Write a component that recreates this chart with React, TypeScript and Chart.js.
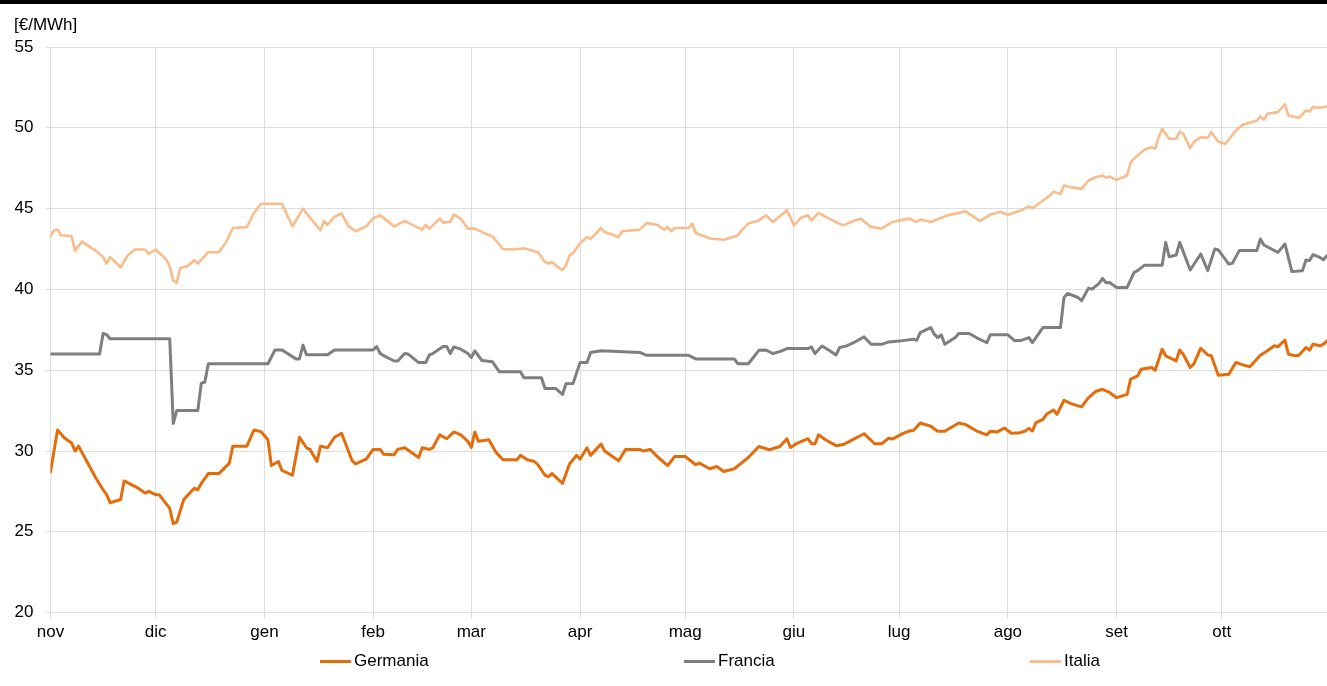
import React, { useEffect, useRef } from "react";
import { Chart, registerables } from "chart.js";

Chart.register(...registerables);

const Y_UNIT = "[€/MWh]";
const MONTH_LABELS = ["nov", "dic", "gen", "feb", "mar", "apr", "mag", "giu", "lug", "ago", "set", "ott"];
const MONTH_START_DAYS = [0, 30, 61, 92, 120, 151, 181, 212, 242, 273, 304, 334];
const LAST_DAY = 364;
const Y_MIN = 20;
const Y_MAX = 55;
const Y_STEP = 5;

const SERIES_NAMES = ["Germania", "Francia", "Italia"];
const SERIES_COLORS = ["#E46C0A", "#7F7F7F", "#F9BC8C"];

// [day index from 1 Nov, €/MWh]
const GERMANIA: [number, number][] = [
  [0, 28.7], [2, 31.3], [4, 30.8], [6, 30.5], [7, 30.0], [8, 30.3], [10, 29.5], [13, 28.3],
  [15, 27.6], [16, 27.3], [17, 26.8], [20, 27.0], [21, 28.15], [25, 27.7], [27, 27.4], [28, 27.5],
  [30, 27.3], [31, 27.3], [34, 26.45], [35, 25.5], [36, 25.6], [38, 27.0], [41, 27.7], [42, 27.6],
  [43, 28.0], [45, 28.6], [48, 28.6], [51, 29.25], [52, 30.3], [56, 30.3], [58, 31.3], [60, 31.2],
  [62, 30.7], [63, 29.1], [65, 29.35], [66, 28.8], [69, 28.5], [71, 30.85], [73, 30.2], [74, 30.1],
  [76, 29.35], [77, 30.3], [79, 30.2], [81, 30.85], [83, 31.1], [86, 29.4], [87, 29.2], [90, 29.5],
  [92, 30.1], [94, 30.1], [95, 29.8], [98, 29.77], [99, 30.1], [101, 30.2], [105, 29.6], [106, 30.2],
  [108, 30.1], [109, 30.2], [111, 31.0], [113, 30.76], [115, 31.18], [117, 31.0], [119, 30.6],
  [120, 30.22], [121, 31.18], [122, 30.6], [125, 30.7], [127, 29.93], [129, 29.46], [133, 29.46],
  [134, 29.73], [136, 29.46], [138, 29.35], [139, 29.15], [141, 28.5], [142, 28.42], [143, 28.6],
  [146, 28.0], [148, 29.2], [150, 29.73], [151, 29.5], [153, 30.2], [154, 29.73], [157, 30.43],
  [158, 30.0], [162, 29.4], [164, 30.1], [168, 30.1], [169, 30.0], [171, 30.1], [173, 29.66],
  [176, 29.1], [178, 29.66], [181, 29.66], [184, 29.15], [185, 29.25], [188, 28.9], [190, 29.04],
  [192, 28.73], [195, 28.9], [197, 29.25], [199, 29.6], [202, 30.28], [205, 30.08], [208, 30.28],
  [210, 30.76], [211, 30.22], [213, 30.49], [216, 30.76], [217, 30.45], [218, 30.45], [219, 31.0],
  [221, 30.7], [224, 30.33], [226, 30.4], [227, 30.5], [232, 31.07], [235, 30.45], [237, 30.45],
  [239, 30.8], [240, 30.74], [243, 31.07], [245, 31.25], [246, 31.25], [248, 31.73], [251, 31.53],
  [253, 31.22], [255, 31.22], [259, 31.73], [261, 31.63], [264, 31.25], [267, 31.0], [268, 31.22],
  [270, 31.18], [272, 31.42], [274, 31.1], [276, 31.11], [278, 31.24], [279, 31.4], [280, 31.24],
  [281, 31.76], [283, 31.96], [284, 32.27], [286, 32.54], [287, 32.27], [289, 33.14], [291, 32.93],
  [294, 32.73], [296, 33.3], [298, 33.68], [300, 33.82], [302, 33.62], [304, 33.3], [307, 33.5],
  [308, 34.44], [310, 34.65], [311, 35.06], [314, 35.17], [315, 35.0], [317, 36.3], [318, 35.89],
  [321, 35.58], [322, 36.24], [323, 35.99], [325, 35.17], [326, 35.37], [328, 36.36], [330, 35.95],
  [331, 35.89], [333, 34.69], [336, 34.75], [338, 35.48], [340, 35.33], [342, 35.21], [345, 35.93],
  [347, 36.2], [349, 36.51], [350, 36.45], [352, 36.86], [353, 35.99], [355, 35.89], [356, 35.93],
  [358, 36.4], [359, 36.24], [360, 36.61], [362, 36.51], [363, 36.61], [364, 36.82],
];

const FRANCIA: [number, number][] = [
  [0, 36.0], [14, 36.0], [15, 37.27], [16, 37.2], [17, 36.95], [34, 36.95], [35, 31.7], [36, 32.5],
  [42, 32.5], [43, 34.2], [44, 34.25], [45, 35.4], [62, 35.4], [64, 36.25], [66, 36.25], [70, 35.7],
  [71, 35.7], [72, 36.55], [73, 35.95], [79, 35.95], [81, 36.25], [92, 36.25], [93, 36.46],
  [94, 36.05], [95, 35.9], [98, 35.57], [99, 35.57], [101, 36.03], [102, 36.0], [105, 35.47],
  [107, 35.47], [108, 35.94], [109, 36.03], [112, 36.46], [113, 36.46], [114, 36.03], [115, 36.44],
  [117, 36.3], [119, 36.03], [120, 35.78], [121, 36.2], [123, 35.6], [126, 35.53], [128, 34.9],
  [134, 34.9], [135, 34.53], [140, 34.53], [141, 33.87], [144, 33.87], [146, 33.5], [147, 34.16],
  [149, 34.18], [151, 35.47], [153, 35.47], [154, 36.1], [157, 36.2], [168, 36.1], [170, 35.92],
  [182, 35.92], [184, 35.7], [195, 35.7], [196, 35.4], [199, 35.4], [202, 36.23], [204, 36.25],
  [206, 36.03], [208, 36.15], [210, 36.34], [216, 36.34], [217, 36.44], [218, 36.03], [220, 36.5],
  [222, 36.23], [224, 35.94], [225, 36.4], [227, 36.5], [229, 36.7], [232, 37.06], [234, 36.6],
  [237, 36.6], [239, 36.75], [242, 36.8], [246, 36.92], [247, 36.85], [248, 37.33], [251, 37.64],
  [252, 37.23], [253, 37.02], [254, 37.19], [255, 36.6], [258, 37.02], [259, 37.27], [262, 37.27],
  [264, 37.02], [267, 36.7], [268, 37.19], [273, 37.19], [275, 36.82], [277, 36.86], [279, 37.02],
  [280, 36.71], [282, 37.33], [283, 37.64], [288, 37.64], [289, 39.5], [290, 39.75], [293, 39.5],
  [294, 39.3], [296, 40.08], [297, 40.02], [299, 40.37], [300, 40.68], [301, 40.41], [302, 40.43],
  [304, 40.12], [307, 40.12], [309, 41.05], [310, 41.16], [312, 41.5], [317, 41.5], [318, 42.91],
  [319, 42.02], [321, 42.13], [322, 42.91], [325, 41.2], [328, 42.19], [330, 41.16], [332, 42.5],
  [333, 42.44], [336, 41.57], [337, 41.61], [339, 42.4], [344, 42.4], [345, 43.12], [346, 42.75],
  [350, 42.29], [352, 42.81], [354, 41.1], [357, 41.16], [358, 41.82], [359, 41.78], [360, 42.15],
  [362, 41.98], [363, 41.84], [364, 42.09],
];

const ITALIA: [number, number][] = [
  [0, 43.28], [1, 43.65], [2, 43.7], [3, 43.35], [6, 43.3], [7, 42.4], [9, 42.97], [13, 42.37],
  [15, 42.0], [16, 41.6], [17, 42.0], [20, 41.37], [22, 42.1], [24, 42.47], [27, 42.47], [28, 42.2],
  [30, 42.47], [33, 41.85], [34, 41.43], [35, 40.54], [36, 40.4], [37, 41.33], [39, 41.43],
  [41, 41.8], [42, 41.6], [45, 42.3], [48, 42.3], [50, 42.9], [52, 43.8], [56, 43.86], [58, 44.73],
  [60, 45.3], [66, 45.3], [69, 43.9], [72, 45.0], [73, 44.7], [77, 43.65], [78, 44.23], [79, 44.0],
  [81, 44.5], [83, 44.7], [85, 43.9], [87, 43.6], [90, 43.9], [92, 44.4], [94, 44.58], [98, 43.9],
  [101, 44.23], [106, 43.7], [107, 44.0], [108, 43.76], [111, 44.38], [112, 44.13], [114, 44.17],
  [115, 44.63], [117, 44.38], [119, 43.76], [121, 43.76], [124, 43.45], [126, 43.28], [129, 42.5],
  [132, 42.47], [135, 42.55], [139, 42.3], [141, 41.7], [142, 41.6], [143, 41.7], [145, 41.33],
  [146, 41.2], [147, 41.48], [148, 42.1], [149, 42.24], [151, 42.86], [153, 43.24], [154, 43.13],
  [157, 43.8], [158, 43.55], [162, 43.24], [163, 43.6], [168, 43.7], [170, 44.1], [173, 44.0],
  [175, 43.7], [176, 43.86], [177, 43.6], [178, 43.8], [182, 43.8], [183, 44.07], [184, 43.49],
  [188, 43.15], [192, 43.07], [196, 43.34], [197, 43.65], [199, 44.07], [202, 44.27], [204, 44.59],
  [206, 44.17], [210, 44.9], [212, 43.96], [214, 44.44], [216, 44.59], [217, 44.27], [219, 44.73],
  [222, 44.38], [226, 43.96], [229, 44.23], [231, 44.38], [234, 43.86], [237, 43.76], [240, 44.17],
  [242, 44.27], [245, 44.38], [247, 44.17], [248, 44.32], [251, 44.17], [254, 44.44], [256, 44.59],
  [258, 44.69], [261, 44.83], [265, 44.23], [268, 44.63], [271, 44.8], [273, 44.6], [277, 44.92],
  [279, 45.14], [280, 45.02], [283, 45.5], [285, 45.81], [286, 46.05], [288, 45.91], [289, 46.43],
  [291, 46.32], [294, 46.22], [296, 46.74], [298, 46.94], [300, 47.05], [301, 46.9], [302, 46.98],
  [304, 46.78], [307, 47.05], [308, 47.87], [310, 48.29], [312, 48.66], [314, 48.8], [315, 48.7],
  [316, 49.42], [317, 49.94], [319, 49.32], [321, 49.32], [322, 49.77], [323, 49.63], [325, 48.74],
  [326, 49.11], [328, 49.42], [330, 49.38], [331, 49.73], [333, 49.15], [335, 49.0], [338, 49.83],
  [340, 50.19], [344, 50.45], [345, 50.7], [346, 50.5], [347, 50.87], [350, 50.97], [352, 51.45],
  [353, 50.76], [356, 50.62], [358, 51.07], [359, 51.01], [360, 51.28], [362, 51.24], [364, 51.32],
];

const SERIES_DATA = [GERMANIA, FRANCIA, ITALIA];
const SERIES_WIDTHS = [3, 3, 2.6];

const FONT_FAMILY = "'Liberation Sans', Arial, sans-serif";
const GRID_COLOR = "#dedede";
const LEGEND_LEFTS = [320, 684, 1030];

export default function App() {
  const canvasRef = useRef<HTMLCanvasElement | null>(null);

  useEffect(() => {
    const canvas = canvasRef.current;
    if (!canvas) return;
    const chart = new Chart(canvas, {
      type: "line",
      data: {
        datasets: SERIES_NAMES.map((name, i) => ({
          label: name,
          data: SERIES_DATA[i].map(([d, v]) => ({ x: d, y: v })),
          borderColor: SERIES_COLORS[i],
          backgroundColor: SERIES_COLORS[i],
          borderWidth: SERIES_WIDTHS[i],
          pointRadius: 0,
          tension: 0,
          fill: false,
          borderJoinStyle: "round",
          borderCapStyle: "round",
        })),
      },
      options: {
        responsive: false,
        animation: false,
        layout: { padding: { left: 14, right: 0, top: 0, bottom: 8 } },
        plugins: {
          legend: { display: false },
          tooltip: { enabled: false },
          title: {
            display: true,
            text: Y_UNIT,
            align: "start",
            color: "#000",
            font: { family: FONT_FAMILY, size: 17, weight: "normal" },
            padding: { top: 15, bottom: 11.6 },
          },
        },
        scales: {
          x: {
            type: "linear",
            min: 0,
            max: LAST_DAY,
            afterBuildTicks: (scale: any) => {
              scale.ticks = MONTH_START_DAYS.map((v) => ({ value: v }));
            },
            ticks: {
              autoSkip: false,
              maxRotation: 0,
              padding: 4,
              color: "#000",
              font: { family: FONT_FAMILY, size: 17 },
              callback: (_v: any, i: number) => MONTH_LABELS[i],
            },
            grid: { color: GRID_COLOR, lineWidth: 1, tickLength: 6, drawTicks: true },
            border: { display: false },
          },
          y: {
            min: Y_MIN,
            max: Y_MAX,
            afterFit: (scale: any) => {
              scale.width = 36.5;
            },
            ticks: {
              stepSize: Y_STEP,
              padding: 12,
              color: "#000",
              font: { family: FONT_FAMILY, size: 17 },
            },
            grid: { color: GRID_COLOR, lineWidth: 1, tickLength: 5, drawTicks: true },
            border: { display: false },
          },
        },
      },
    } as any);
    return () => chart.destroy();
  }, []);

  return (
    <div style={{ position: "absolute", left: 0, top: 0, width: 1327, height: 686, background: "#fff", overflow: "hidden" }}>
      <canvas ref={canvasRef} width={1327} height={655} style={{ position: "absolute", left: 0, top: 0 }} />
      <div style={{ position: "absolute", left: 0, top: 0, width: 1327, height: 4, background: "#000" }} />
      {SERIES_NAMES.map((name, i) => (
        <div
          key={name}
          style={{
            position: "absolute",
            left: LEGEND_LEFTS[i],
            top: 650,
            height: 22,
            display: "flex",
            alignItems: "center",
            fontFamily: FONT_FAMILY,
            fontSize: 17,
            color: "#000",
            whiteSpace: "nowrap",
          }}
        >
          <span style={{ display: "inline-block", width: 31, height: 3, background: SERIES_COLORS[i], marginRight: 3 }} />
          <span>{name}</span>
        </div>
      ))}
    </div>
  );
}
